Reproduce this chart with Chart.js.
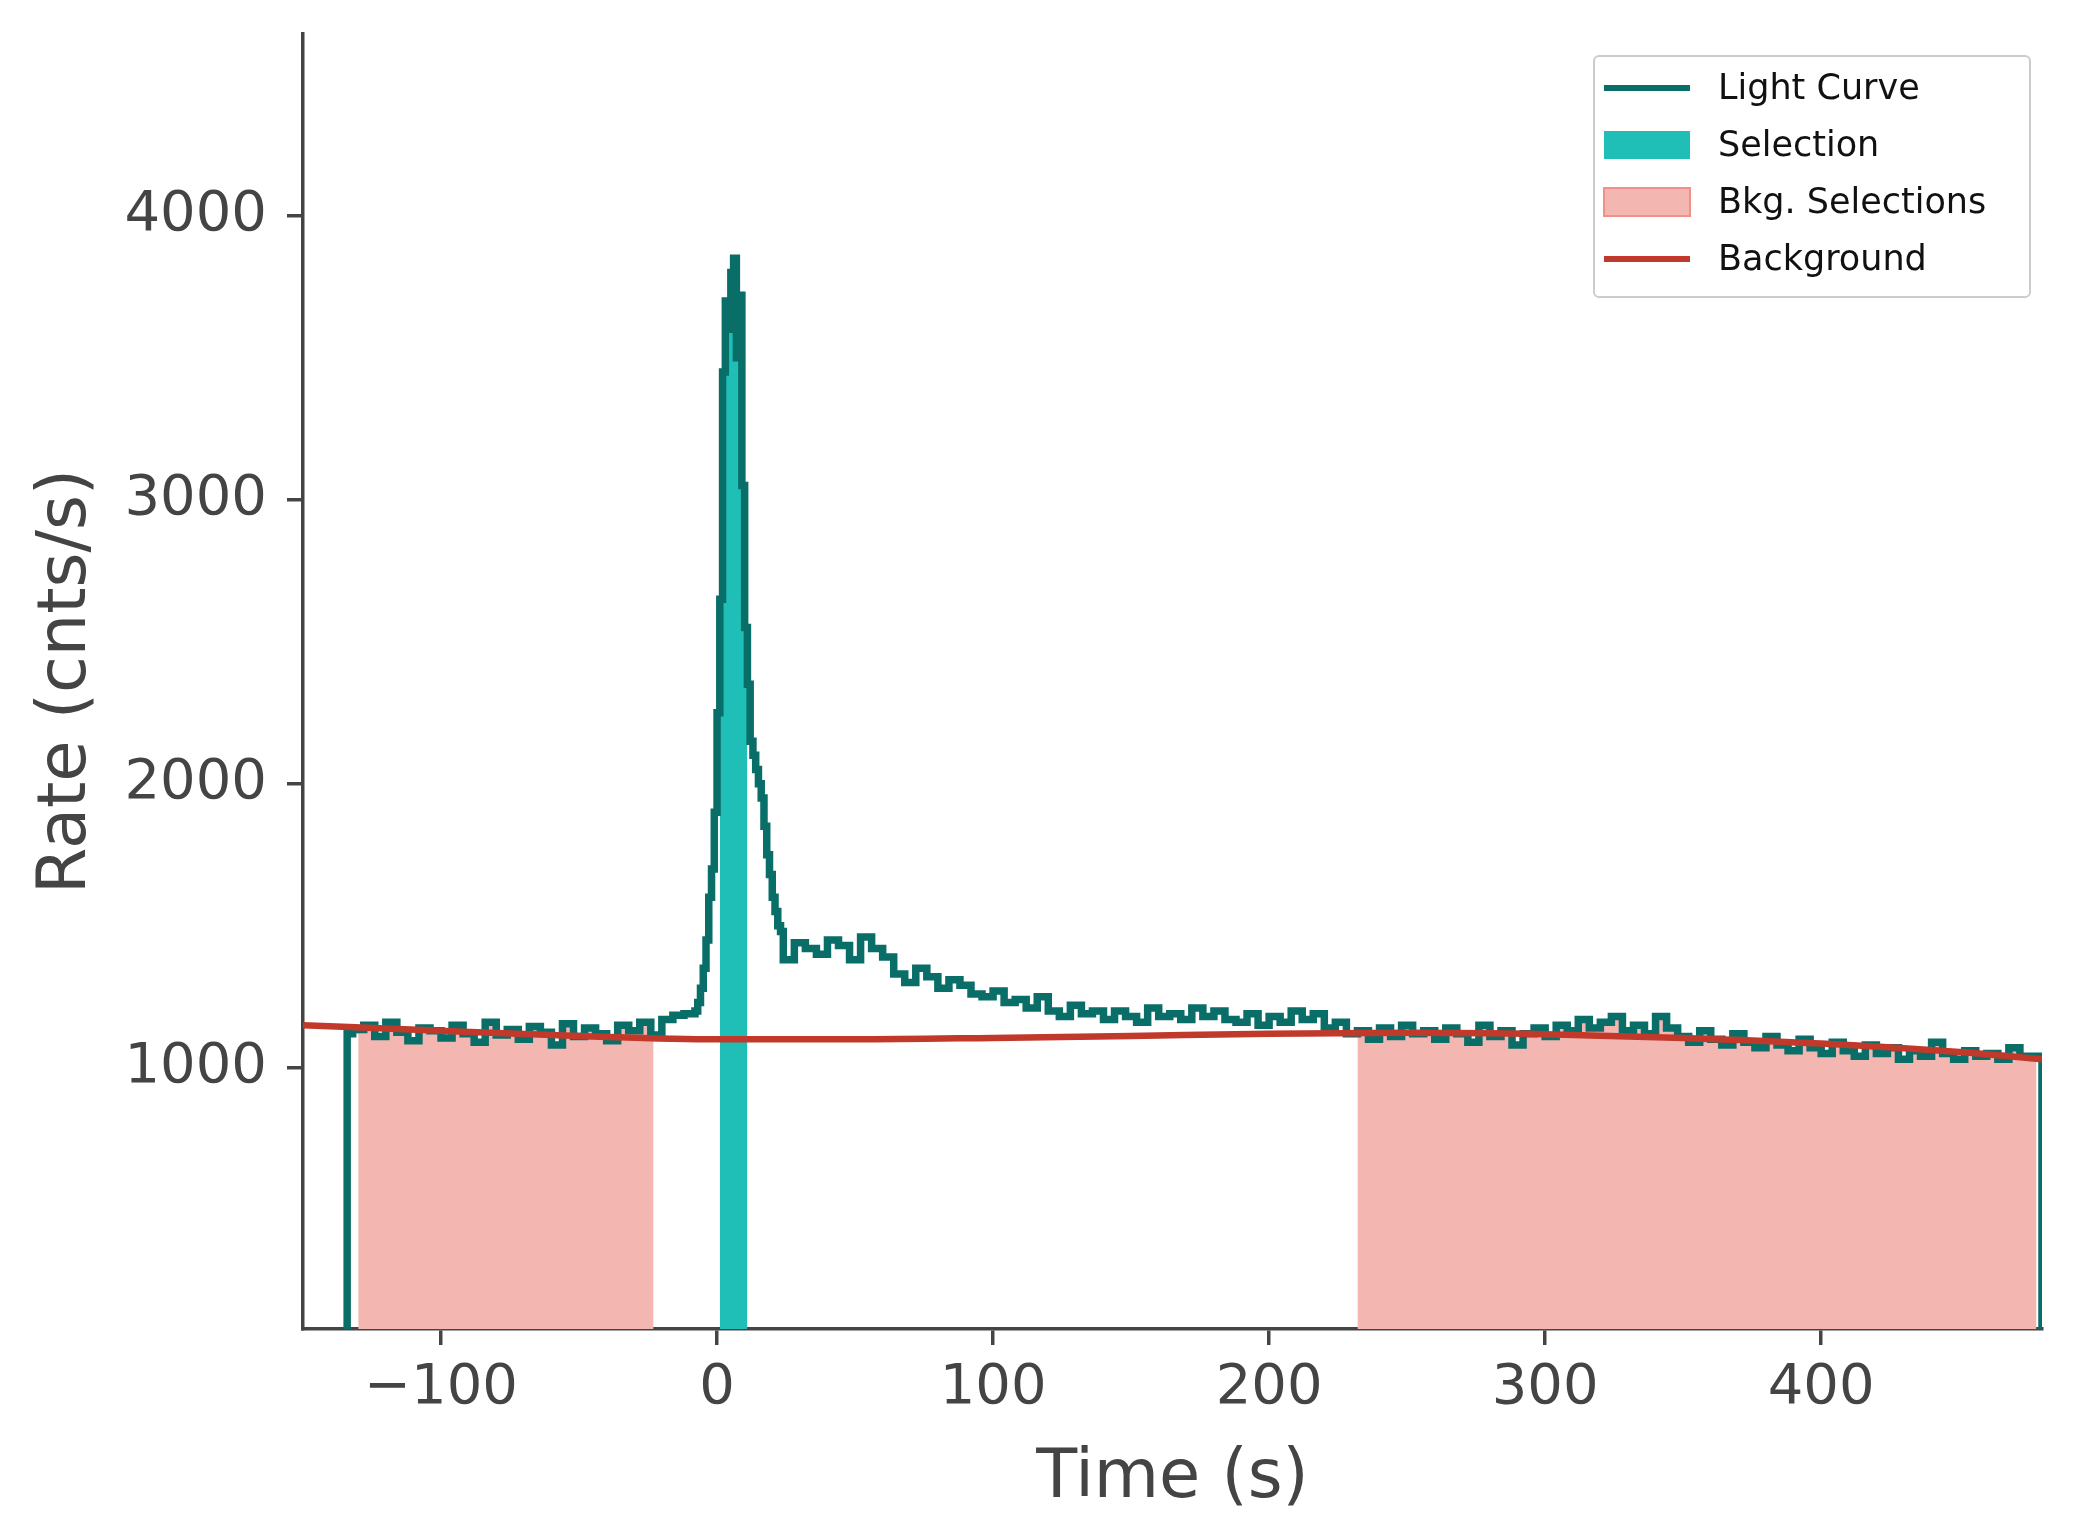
<!DOCTYPE html>
<html>
<head>
<meta charset="utf-8">
<script src="https://cdn.jsdelivr.net/npm/chart.js@4/dist/chart.umd.min.js"></script>
<style>
  body { margin: 0; background: #fff; }
  #wrap { width: 2073px; height: 1540px; }
</style>
</head>
<body>
<div id="wrap"><canvas id="c" width="2073" height="1540"></canvas></div>
<script>
// ---- data ----
// pre-burst, 4 s bins from -132
const preStart = -132, preStep = 4;
const preRates = [1120,1135,1150,1110,1160,1125,1095,1140,1130,1105,1150,1120,1090,1160,1115,1135,
  1100,1145,1125,1080,1155,1110,1140,1120,1095,1150,1130,1160,1115,1170,1185];
// burst, 1 s bins from -8
const burstStart = -8, burstStep = 1;
const burstRates = [1190,1200,1230,1280,1350,1450,1600,1700,1900,2250,2650,3450,3700,3600,3800,3850,
  3500,3720,3050,2550,2350,2150,2100,2050,2000,1950,1850,1750,1680,1600,1550,1500];
// tail, 4 s bins from 24
const tailStart = 24, tailStep = 4;
const tailRates = [
  1480,1380,1440,1420,1400,1450,1430,1380,1460,1420,
  1390,1330,1300,1350,1320,1280,1310,1290,1260,1250,
  1270,1230,1240,1210,1250,1200,1180,1220,1190,1200,
  1170,1200,1180,1160,1210,1180,1190,1170,1210,1180,
  1200,1170,1160,1190,1150,1180,1160,1200,1170,1190,
  1140,1160,1120,1130,1100,1140,1110,1150,1120,1130,
  1100,1140,1120,1090,1150,1110,1130,1080,1120,1140,
  1110,1150,1130,1170,1140,1160,1180,1130,1150,1120,
  1180,1140,1110,1090,1130,1100,1080,1120,1090,1070,
  1110,1080,1060,1100,1070,1050,1090,1060,1040,1080,
  1050,1070,1030,1060,1040,1090,1050,1030,1060,1040,
  1050,1030,1070,1040];
const curveEnd = 480;

const bkgTimes = [-150, -100, -50, 0, 50, 100, 150, 200, 250, 300, 350, 400, 450, 480];
const bkgRates = [1150, 1130, 1112, 1100, 1100, 1105, 1112, 1120, 1123, 1118, 1105, 1085, 1055, 1030];

const selection = [1, 11];
const bkgSelections = [[-130, -23], [232, 478]];

const xTicks = [-100, 0, 100, 200, 300, 400];
const yTicks = [1000, 2000, 3000, 4000];
const yMin = 80, yMax = 4640;

// ---- build step points ----
const points = [{ x: -134, y: yMin }, { x: -134, y: 380 }];
const addBins = (start, step, rates) => rates.forEach((r, i) => points.push({ x: start + i * step, y: r }));
addBins(preStart, preStep, preRates);
addBins(burstStart, burstStep, burstRates);
addBins(tailStart, tailStep, tailRates);
points.push({ x: curveEnd, y: tailRates[tailRates.length - 1] });
points.push({ x: curveEnd, y: yMin });

function rateAt(t) {
  let v = points[0].y;
  for (const p of points) { if (p.x <= t) v = p.y; else break; }
  return v;
}
function range(a, b) {
  const out = [{ x: a, y: rateAt(a) }];
  points.forEach(p => { if (p.x > a && p.x < b) out.push(p); });
  out.push({ x: b, y: rateAt(b) });
  return out;
}

const fillDs = (data, bg, border) => ({
  data, stepped: 'after', fill: { value: yMin }, backgroundColor: bg,
  borderColor: border || bg, borderWidth: border ? 2 : 0, pointRadius: 0
});

// first dataset is drawn on top
const datasets = [
  { data: bkgTimes.map((t, i) => ({ x: t, y: bkgRates[i] })), borderColor: '#c0392b', borderWidth: 6.5,
    pointRadius: 0, cubicInterpolationMode: 'monotone', fill: false },
  { data: points, stepped: 'after', borderColor: '#0a6e68', borderWidth: 7.5, pointRadius: 0, fill: false },
  fillDs(range(selection[0], selection[1]), '#1fbfb8', null),
  ...bkgSelections.map(([a, b]) => fillDs(range(a, b), '#f4b6b0', '#f0908a'))
];

// matplotlib-style legend box
const legendPlugin = {
  id: 'mplLegend',
  afterDraw(chart) {
    const ctx = chart.ctx;
    ctx.save();
    ctx.fillStyle = 'rgba(255,255,255,0.85)';
    ctx.strokeStyle = '#cccccc';
    ctx.lineWidth = 2;
    ctx.beginPath();
    ctx.roundRect(1594, 56, 436, 241, 5);
    ctx.fill(); ctx.stroke();
    const items = [
      { label: 'Light Curve', type: 'line', color: '#0a6e68' },
      { label: 'Selection', type: 'box', color: '#1fbfb8' },
      { label: 'Bkg. Selections', type: 'box', color: '#f4b6b0', edge: '#f0908a' },
      { label: 'Background', type: 'line', color: '#c0392b' }
    ];
    ctx.font = '35px "DejaVu Sans"';
    ctx.textBaseline = 'middle';
    items.forEach((it, i) => {
      const y = 88 + i * 57;
      if (it.type === 'line') {
        ctx.strokeStyle = it.color; ctx.lineWidth = 6;
        ctx.beginPath(); ctx.moveTo(1604, y); ctx.lineTo(1690, y); ctx.stroke();
      } else {
        ctx.fillStyle = it.color; ctx.fillRect(1604, y - 14, 86, 28);
        if (it.edge) { ctx.strokeStyle = it.edge; ctx.lineWidth = 2; ctx.strokeRect(1604, y - 14, 86, 28); }
      }
      ctx.fillStyle = '#111';
      ctx.fillText(it.label, 1718, y + 2);
    });
    ctx.restore();
  }
};

const tickFont = { family: '"DejaVu Sans"', size: 56 };
const yTickFont = { family: '"DejaVu Sans"', size: 56, lineHeight: 0.5 };
const titleFont = { family: '"DejaVu Sans"', size: 67 };

new Chart(document.getElementById('c'), {
  type: 'line',
  data: { datasets },
  plugins: [legendPlugin],
  options: {
    responsive: false,
    animation: false,
    layout: { padding: { top: 33, right: 31, left: 0, bottom: 0 } },
    plugins: { legend: { display: false }, tooltip: { enabled: false } },
    scales: {
      x: {
        type: 'linear', min: -150, max: 480,
        afterFit: s => { s.height = 211; },
        afterBuildTicks: s => { s.ticks = xTicks.map(v => ({ value: v })); },
        border: { color: '#444', width: 3.5 },
        grid: { drawOnChartArea: false, color: '#444', lineWidth: 3.5, tickLength: 16 },
        ticks: { color: '#444', font: tickFont, padding: 10, callback: v => String(v).replace('-', '\u2212') },
        title: { display: true, text: 'Time (s)', color: '#444', font: titleFont, padding: { top: 0, bottom: 20 } }
      },
      y: {
        min: yMin, max: yMax,
        afterFit: s => { s.width = 303; },
        afterBuildTicks: s => { s.ticks = yTicks.map(v => ({ value: v })); },
        border: { color: '#444', width: 3.5 },
        grid: { drawOnChartArea: false, color: '#444', lineWidth: 3.5, tickLength: 16 },
        ticks: { color: '#444', font: yTickFont, padding: 20, callback: v => String(v) },
        title: { display: true, text: 'Rate (cnts/s)', color: '#444', font: titleFont, padding: { top: 27, bottom: 0 } }
      }
    }
  }
});
</script>
</body>
</html>
